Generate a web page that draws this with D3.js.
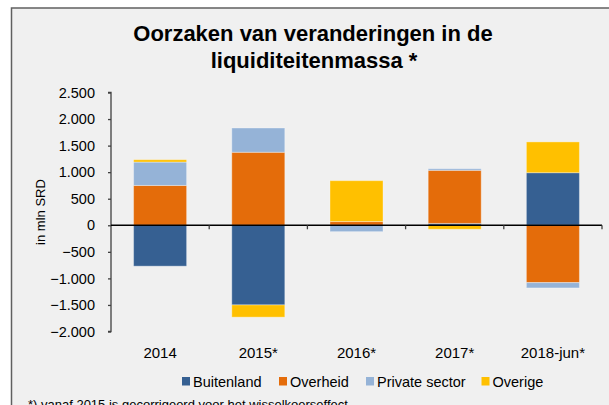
<!DOCTYPE html>
<html>
<head>
<meta charset="utf-8">
<script src="https://cdn.jsdelivr.net/npm/d3@7/dist/d3.min.js"></script>
<style>
  html, body { margin: 0; padding: 0; background: #fff; }
  svg { display: block; font-family: "Liberation Sans", Arial, sans-serif; }
</style>
</head>
<body>
<script>
// Data: oorzaken van veranderingen in de liquiditeitenmassa (mln SRD)
var categories = ['2014', '2015*', '2016*', '2017*', '2018-jun*'];
var seriesNames = ['Buitenland', 'Overheid', 'Private sector', 'Overige'];
var buitenland = [-770, -1500, 0, 35, 990];
var overheid = [750, 1375, 70, 1000, -1080];
var privateSector = [440, 457, -120, 30, -100];
var overige = [45, -230, 770, -75, 580];
var yTicks = [-2000, -1500, -1000, -500, 0, 500, 1000, 1500, 2000, 2500];
var colors = ['#366092', '#e46c0a', '#95b3d7', '#ffc000'];

var width = 609, height = 405;

var svg = d3.select('body').append('svg')
    .attr('width', width)
    .attr('height', height);

// chart area background + border
svg.append('rect')
    .attr('x', 11.5).attr('y', 8)
    .attr('width', width + 10).attr('height', height + 10)
    .attr('fill', '#f0f0f0')
    .attr('stroke', '#606060')
    .attr('stroke-width', 1.5);

// title
var title = svg.append('text')
    .attr('text-anchor', 'middle')
    .attr('font-weight', 'bold')
    .attr('font-size', 22)
    .attr('fill', '#000');
title.append('tspan').attr('x', 313).attr('y', 41).text('Oorzaken van veranderingen in de');
title.append('tspan').attr('x', 314).attr('y', 68).text('liquiditeitenmassa *');

// scales
var x = d3.scaleBand().domain(categories).range([111, 602]).paddingInner(0.46).paddingOuter(0.23);
var xb = d3.scaleBand().domain(categories).range([111, 602]);
var y = d3.scaleLinear().domain([-2000, 2500]).range([331.5, 92.5]);

// stack: positives up, negatives down
var rows = categories.map(function(c, i) {
  return { cat: c, Buitenland: buitenland[i], Overheid: overheid[i],
           'Private sector': privateSector[i], Overige: overige[i] };
});
var stack = d3.stack().keys(seriesNames).offset(d3.stackOffsetDiverging);
var layers = stack(rows);

var g = svg.append('g');
layers.forEach(function(layer, k) {
  g.selectAll(null).data(layer).enter().append('rect')
    .attr('x', function(d) { return x(d.data.cat); })
    .attr('width', x.bandwidth())
    .attr('y', function(d) { return y(Math.max(d[0], d[1])); })
    .attr('height', function(d) { return Math.abs(y(d[0]) - y(d[1])); })
    .attr('fill', colors[k])
    .attr('stroke', 'rgba(255,255,255,0.35)')
    .attr('stroke-width', 1);
});

// y axis
var yAxis = svg.append('g')
    .attr('transform', 'translate(111,0)')
    .call(d3.axisLeft(y).tickValues(yTicks).tickSize(3).tickPadding(13)
      .tickFormat(function(d) { return d3.format(',')(d).replace(/,/g, '.'); }));
yAxis.select('.domain').attr('stroke', '#404040').attr('stroke-width', 1.3)
    .attr('d', 'M-3,' + y(-2000) + 'H0V' + y(2500) + 'H-3');
yAxis.selectAll('.tick line').attr('stroke', '#404040').attr('stroke-width', 1.3);
yAxis.selectAll('.tick text')
    .attr('font-size', 14.5)
    .attr('font-family', '"Liberation Sans", Arial, sans-serif')
    .attr('fill', '#000');

// x axis at zero
var xAxis = svg.append('g').attr('transform', 'translate(0,' + y(0) + ')');
xAxis.append('line')
    .attr('x1', 111).attr('x2', 602)
    .attr('stroke', '#000').attr('stroke-width', 1.5);
xAxis.selectAll(null).data(categories).enter().append('line')
    .attr('x1', function(d) { return xb(d) + xb.bandwidth(); })
    .attr('x2', function(d) { return xb(d) + xb.bandwidth(); })
    .attr('y1', 0).attr('y2', 4)
    .attr('stroke', '#404040').attr('stroke-width', 1.3);

// category labels below the plot
svg.selectAll(null).data(categories).enter().append('text')
    .attr('x', function(d) { return xb(d) + xb.bandwidth() / 2; })
    .attr('y', 358)
    .attr('text-anchor', 'middle')
    .attr('font-size', 15)
    .attr('fill', '#000')
    .text(function(d) { return d; });

// y label
svg.append('text')
    .attr('transform', 'translate(45,212) rotate(-90)')
    .attr('text-anchor', 'middle')
    .attr('font-size', 13)
    .attr('fill', '#000')
    .text('in mln SRD');

// legend
var legendX = [182, 279, 366, 481.5];
var legend = svg.selectAll(null).data(seriesNames).enter().append('g')
    .attr('transform', function(d, i) { return 'translate(' + legendX[i] + ',377)'; });
legend.append('rect').attr('width', 8).attr('height', 8.5)
    .attr('fill', function(d, i) { return colors[i]; });
legend.append('text').attr('x', 11).attr('y', 9.5)
    .attr('font-size', 14.5).attr('fill', '#000')
    .text(function(d) { return d; });

// footnote (cut off at bottom)
svg.append('text')
    .attr('x', 28).attr('y', 408.5)
    .attr('font-size', 13).attr('fill', '#000')
    .text('*) vanaf 2015 is gecorrigeerd voor het wisselkoerseffect');
</script>
</body>
</html>
